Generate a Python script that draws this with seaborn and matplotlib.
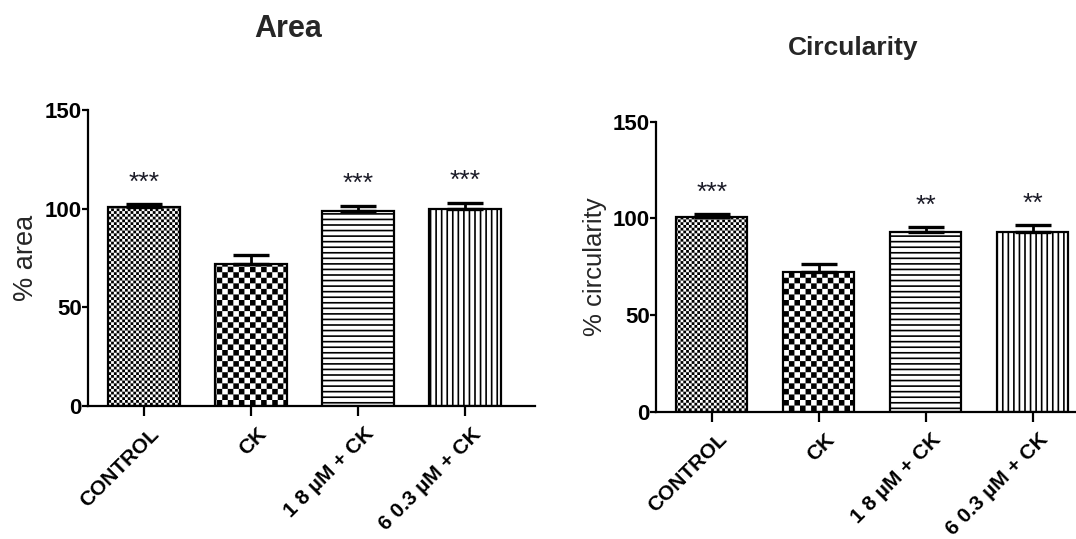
import matplotlib
matplotlib.use("Agg")
import matplotlib.pyplot as plt
import matplotlib.hatch as mhatch
import matplotlib.transforms as mtrans
from matplotlib.path import Path
import seaborn as sns
import numpy as np

categories = ['CONTROL', 'CK', '1 8 µM + CK', '6 0.3 µM + CK']
area_mean = [101.0, 72.0, 99.0, 99.8]
area_sem = [1.2, 4.3, 2.6, 3.3]
area_stars = ['***', '', '***', '***']
circ_mean = [100.6, 72.0, 93.1, 92.8]
circ_sem = [1.4, 4.5, 2.6, 3.6]
circ_stars = ['***', '', '**', '**']
bar_hatches = ['******', '***', '---', '|||']

DPI = 100
HATCH_LW = 1.2  # pt


# checkerboard hatch, registered in place of the star hatch
class Checker(mhatch.HatchPatternBase):
    def __init__(self, hatch, density):
        n = hatch.count('*') * density
        self.n = n + (n % 2)
        self.num_vertices = (self.n * self.n // 2) * 5

    def set_vertices_and_codes(self, vertices, codes):
        n = self.n
        s = 1.0 / n
        # shrink squares so the hatch stroke doesn't fatten them
        d = (HATCH_LW * DPI / 72.0) / 2.0 / DPI
        k = 0
        for i in range(n):
            for j in range(n):
                if (i + j) % 2:
                    continue
                x0, y0, x1, y1 = i * s + d, j * s + d, (i + 1) * s - d, (j + 1) * s - d
                vertices[k:k + 5] = [(x0, y0), (x1, y0), (x1, y1), (x0, y1), (x0, y0)]
                codes[k:k + 5] = [Path.MOVETO, Path.LINETO, Path.LINETO,
                                  Path.LINETO, Path.CLOSEPOLY]
                k += 5


mhatch._hatch_types = [h for h in mhatch._hatch_types if h is not mhatch.Stars] + [Checker]

sns.set_style('ticks')
plt.rcParams['font.family'] = ['Liberation Sans', 'DejaVu Sans']
plt.rcParams['hatch.linewidth'] = HATCH_LW
plt.rcParams['hatch.color'] = 'black'

fig = plt.figure(figsize=(10.76, 5.39), dpi=DPI)
ax1 = fig.add_axes([0.0818, 0.2468, 0.4154, 0.549])
ax2 = fig.add_axes([0.6097, 0.2365, 0.4145, 0.5377])

label_shift = mtrans.ScaledTranslation(0.06, -0.03, fig.dpi_scale_trans)


def panel(ax, means, sems, stars, title, ylabel, title_x, title_y, title_size,
          ylabel_size):
    sns.barplot(x=categories, y=means, ax=ax, color='white', edgecolor='black',
                linewidth=1.6, width=0.67, errorbar=None, saturation=1)
    for patch, h in zip(ax.patches, bar_hatches):
        patch.set_hatch(h)
    pos = np.arange(len(categories))
    ax.errorbar(pos, means, yerr=[np.zeros(len(means)), sems], fmt='none',
                ecolor='black', elinewidth=2, capsize=13, capthick=2.4, zorder=5)
    for p, m, e, s in zip(pos, means, sems, stars):
        if s:
            ax.text(p, m + e + 11, s, ha='center', va='center', fontsize=19,
                    color='#1c1c28')
    ax.set_ylim(0, 150)
    ax.set_xlim(-0.52, 3.65)
    ax.set_yticks([0, 50, 100, 150])
    for side in ['top', 'right']:
        ax.spines[side].set_visible(False)
    for side in ['left', 'bottom']:
        ax.spines[side].set_linewidth(1.6)
        ax.spines[side].set_color('black')
    ax.tick_params(axis='y', length=4, width=1.6, labelsize=16, pad=0.5, colors='black')
    ax.tick_params(axis='x', length=7, width=1.6, labelsize=15, pad=4, colors='black')
    for lab in ax.get_yticklabels():
        lab.set_fontweight('bold')
    ax.set_xticks(pos)
    ax.set_xticklabels(categories, rotation=45, ha='right', va='top',
                       rotation_mode='anchor', fontweight='bold')
    for lab in ax.get_xticklabels():
        lab.set_transform(lab.get_transform() + label_shift)
    ax.set_ylabel(ylabel, fontsize=ylabel_size, labelpad=4)
    ax.set_title(title, fontsize=title_size, fontweight='bold', x=title_x, y=title_y)


panel(ax1, area_mean, area_sem, area_stars, 'Area', '% area', 0.447, 1.22, 22, 19.5)
panel(ax2, circ_mean, circ_sem, circ_stars, 'Circularity', '% circularity', 0.442, 1.2,
      19, 18.5)

fig.savefig('out.png', dpi=DPI)
